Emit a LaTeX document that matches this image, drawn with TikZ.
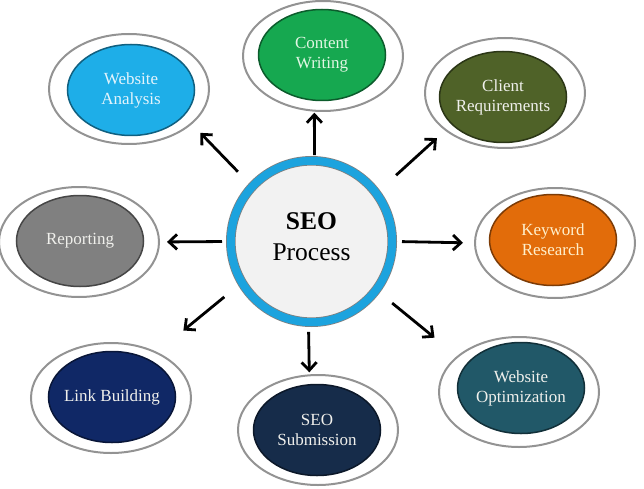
\documentclass[tikz,border=0pt]{standalone}
\usepackage{fontspec}
\setmainfont{Liberation Serif}
\usepackage{tikz}
\usetikzlibrary{shapes.geometric,arrows.meta}

\definecolor{ringblue}{RGB}{28,163,222}
\definecolor{coregrey}{RGB}{242,242,242}
\definecolor{cwgreen}{RGB}{22,168,80}
\definecolor{wablue}{RGB}{30,174,232}
\definecolor{crolive}{RGB}{79,98,40}
\definecolor{rpgrey}{RGB}{128,128,128}
\definecolor{krorange}{RGB}{226,108,10}
\definecolor{lbnavy}{RGB}{16,40,102}
\definecolor{ssnavy}{RGB}{22,44,74}
\definecolor{woteal}{RGB}{33,88,104}
\definecolor{palegreen}{RGB}{226,246,228}
\definecolor{paleblue}{RGB}{228,244,252}
\definecolor{paleyellow}{RGB}{255,240,204}
\definecolor{paleash}{RGB}{240,240,236}

\tikzset{
  rim/.style={ellipse, draw=gray!85, line width=2pt, fill=white,
    minimum width=160pt, minimum height=110pt, outer sep=0pt},
  core/.style={ellipse, line width=1.5pt, minimum width=127pt,
    minimum height=91pt, inner sep=0pt},
  lbl/.style={align=center, font=\fontsize{17}{20}\selectfont},
  arr/.style={line width=2.8pt, -{Straight Barb[length=8pt,width=15pt]}}
}

\begin{document}
\begin{tikzpicture}[x=1pt, y=-1pt]
    \useasboundingbox (0,0) rectangle (644,489);

    % Centre circle
    \node[circle, minimum size=161.4pt, draw=gray, double=ringblue,
      double distance=8pt, line width=0.8pt, fill=coregrey,
      outer sep=4.8pt, align=center, text depth=9pt,
      font=\fontsize{25.5}{31}\selectfont] (seo) at (311.5,241.5)
      {\textbf{SEO}\\Process};

    % Satellites
    \foreach \nm/\ox/\oy/\ix/\iy/\col/\tc/\txt in {
        cw/323/56/322/55/cwgreen/palegreen/{Content\\Writing},
        wa/129/89/131/90/wablue/paleblue/{Website\\Analysis},
        cr/505/93/503/97/crolive/paleash/{Client\\Requirements},
        rp/79/242/80/241/rpgrey/paleash/{Reporting},
        kr/555/243/553/240/krorange/paleyellow/{Keyword\\Research},
        lb/111/398/112/397/lbnavy/paleash/{Link Building},
        ss/318/430/317/430/ssnavy/paleash/{SEO\\Submission},
        wo/519/392/521/388/woteal/paleash/{Website\\Optimization}} {
        \node[rim] (\nm-o) at (\ox,\oy) {};
        \node[core, fill=\col, draw=\col!55!black,
          label={[lbl, text=\tc]center:\txt}] (\nm) at (\ix,\iy) {};
    }

    % Arrows pointing outwards
    \draw[arr, shorten <=1pt, shorten >=2pt] (seo.88) -- (cw-o.261);
    \draw[arr, shorten <=16pt, shorten >=13pt] (seo.137) -- (wa-o.331);
    \draw[arr, shorten <=22pt, shorten >=12pt] (seo.37) -- (cr-o.212);
    \draw[arr, shorten <=4pt, shorten >=8pt] (seo.180) -- (rp-o.0);
    \draw[arr, shorten <=5pt, shorten >=12pt] (seo.0) -- (kr-o.180);
    \draw[arr, shorten <=18pt, shorten >=35pt] (seo.211) -- (lb-o.45);
    \draw[arr, shorten <=5pt, shorten >=3pt] (seo.268) -- (ss-o.99);
    \draw[arr, shorten <=16pt, shorten >=30pt] (seo.323) -- (wo-o.150);
\end{tikzpicture}
\end{document}
